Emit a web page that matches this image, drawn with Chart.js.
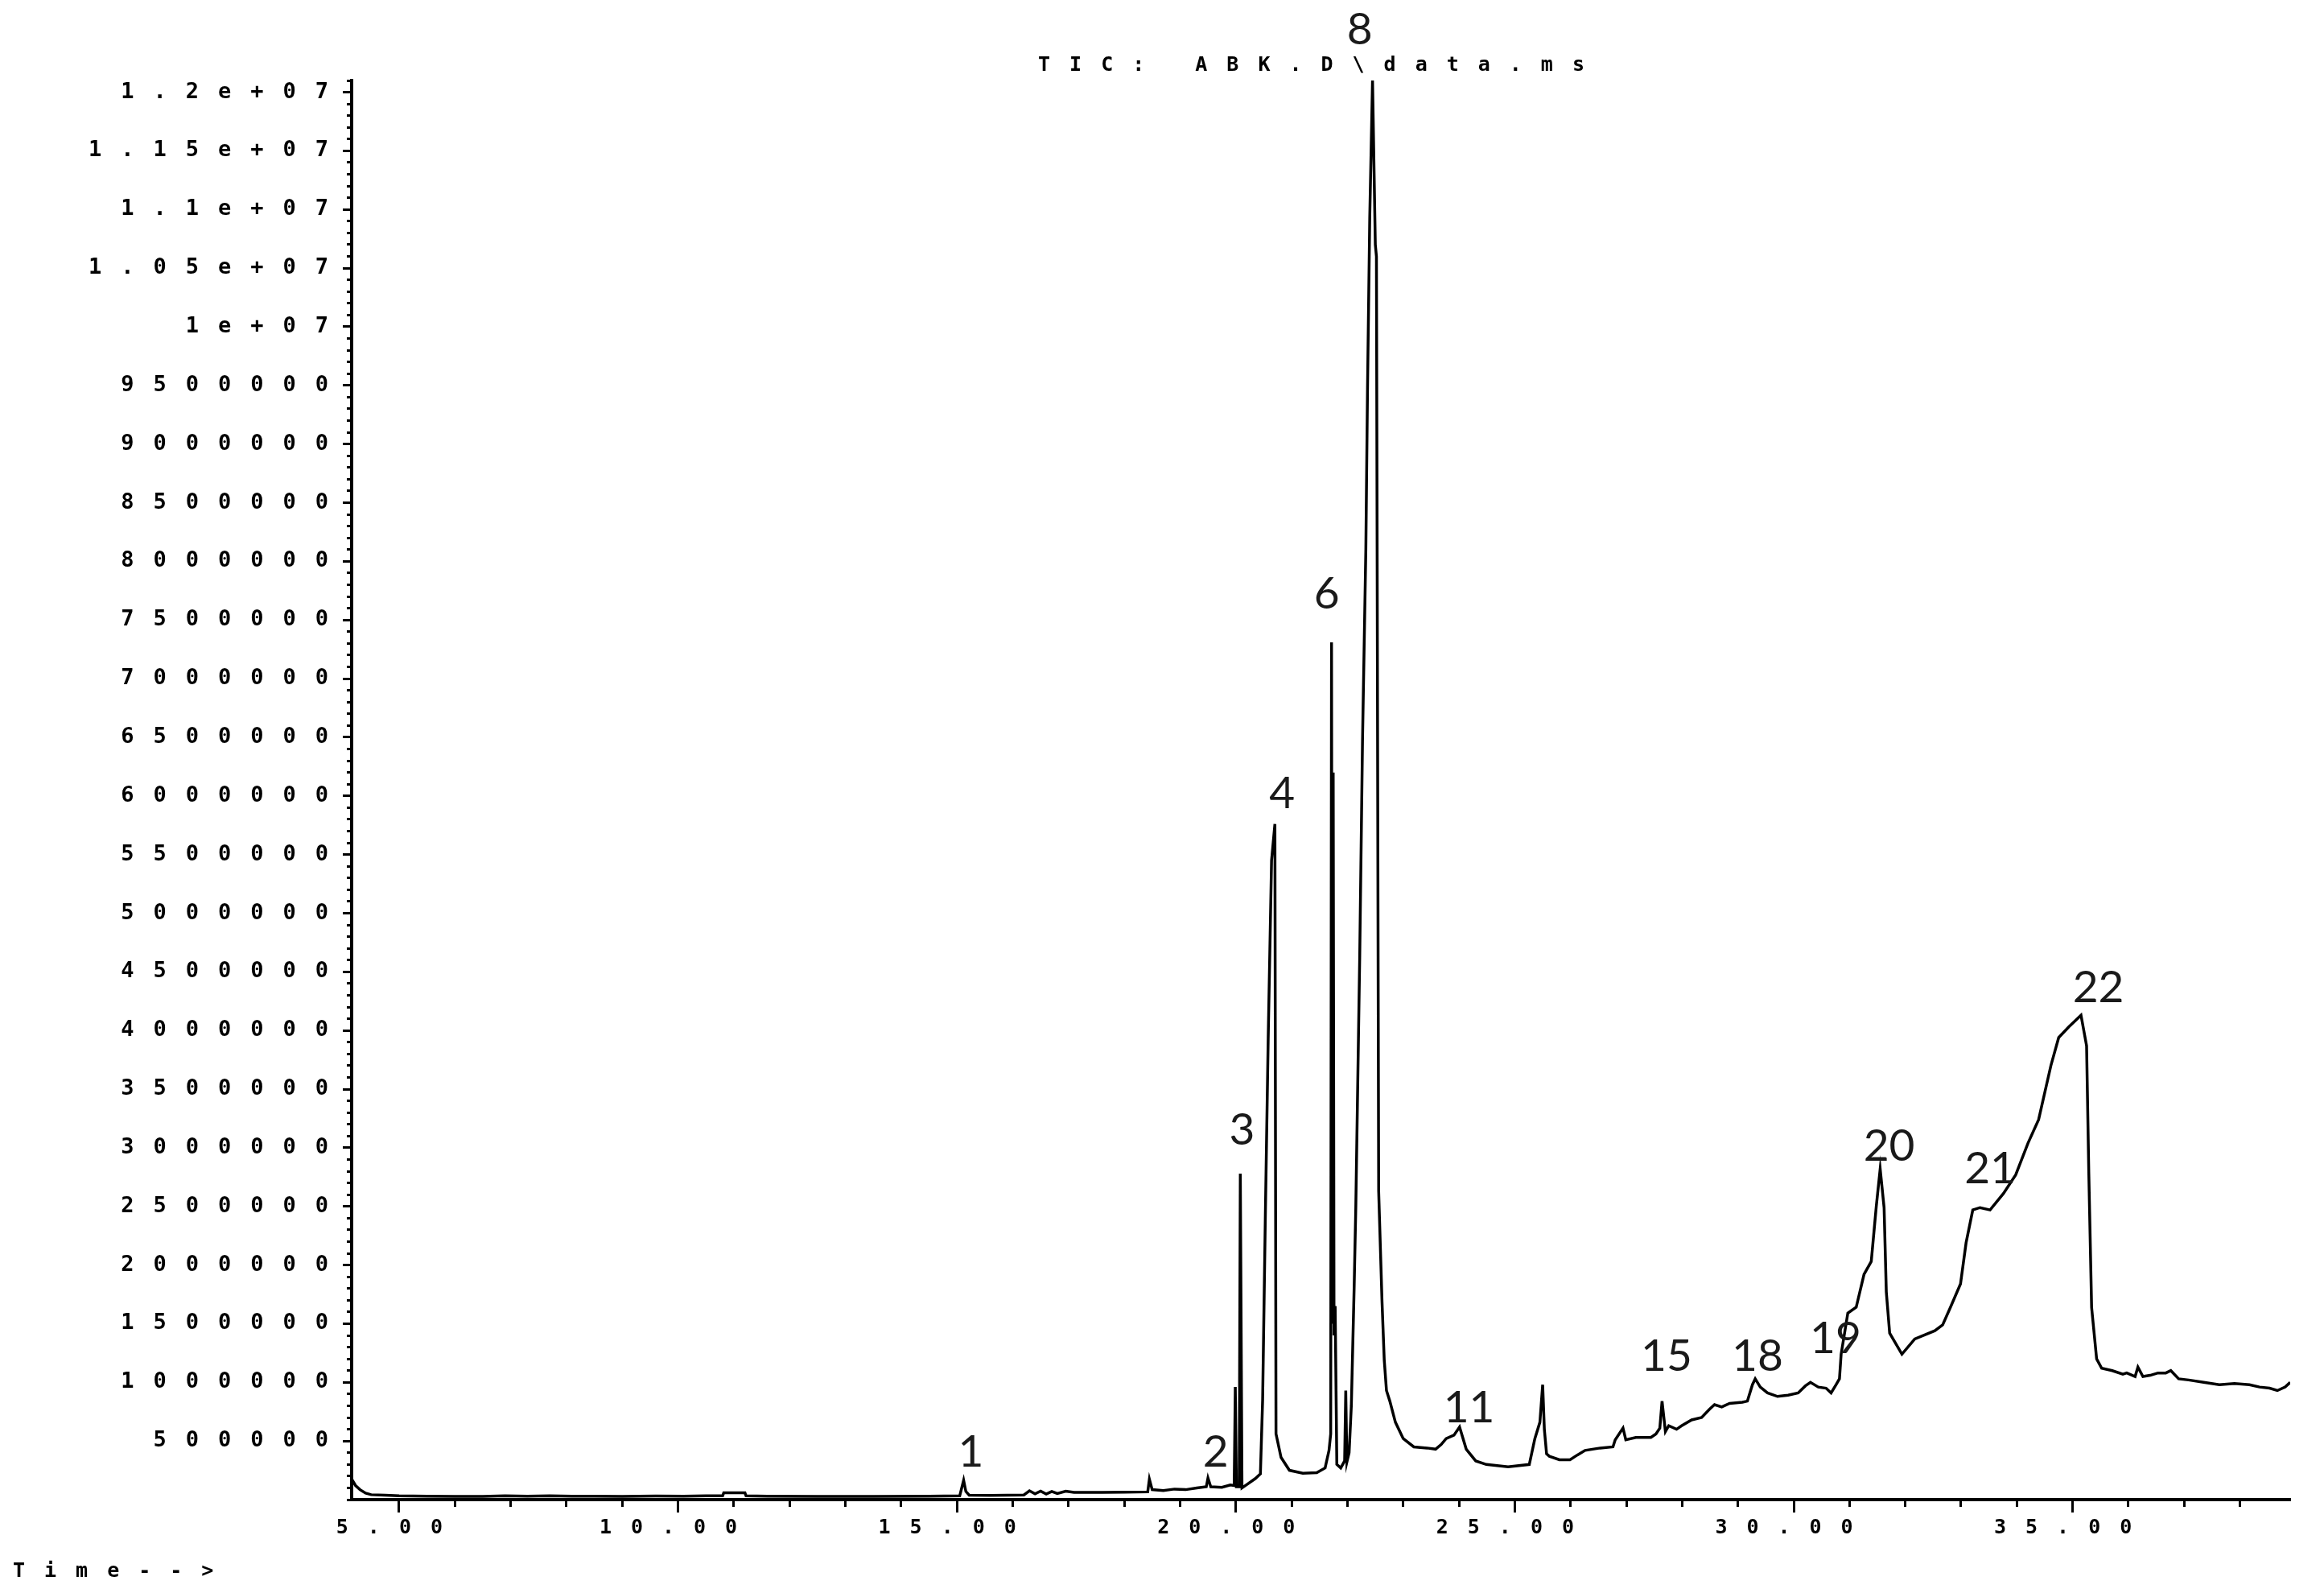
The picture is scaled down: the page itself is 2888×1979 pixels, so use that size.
<!DOCTYPE html>
<html>
<head>
<meta charset="utf-8">
<script src="https://cdn.jsdelivr.net/npm/chart.js@4.4.1/dist/chart.umd.min.js"></script>
<style>
  html, body { margin: 0; padding: 0; background: #ffffff; }
  #wrap { width: 2888px; height: 1979px; }
</style>
</head>
<body>
<div id="wrap"><canvas id="c" width="2888" height="1979"></canvas></div>
<script>
// ---------- text ----------
const chartTitle = 'TIC: ABK.D\\data.ms';
const xAxisTitle = 'Time-->';

// ---------- axes ----------
const xRange = [4.15, 38.9];
const yRange = [0, 12100000];
const xTickValues = [5, 10, 15, 20, 25, 30, 35];
const xTickLabels = ['5.00', '10.00', '15.00', '20.00', '25.00', '30.00', '35.00'];
const xMinorStep = 1;
const yTickValues = [500000, 1000000, 1500000, 2000000, 2500000, 3000000, 3500000, 4000000,
  4500000, 5000000, 5500000, 6000000, 6500000, 7000000, 7500000, 8000000, 8500000, 9000000,
  9500000, 10000000, 10500000, 11000000, 11500000, 12000000];
const yTickLabels = ['500000', '1000000', '1500000', '2000000', '2500000', '3000000', '3500000', '4000000',
  '4500000', '5000000', '5500000', '6000000', '6500000', '7000000', '7500000', '8000000', '8500000', '9000000',
  '9500000', '1e+07', '1.05e+07', '1.1e+07', '1.15e+07', '1.2e+07'];
const yMinorStep = 100000;

// ---------- trace: [retention time (min), abundance] ----------
const traceEarly = [
  [4.15, 175000], [4.22, 120000], [4.30, 85000], [4.40, 55000], [4.50, 42000], [4.75, 38000],
  [5.0, 32000], [5.5, 30000], [6.0, 28000], [6.5, 28000], [6.9, 32000], [7.3, 30000],
  [7.7, 33000], [8.1, 30000], [8.5, 29000], [9.0, 27000], [9.6, 31000], [10.1, 30000],
  [10.5, 32000], [10.8, 32000], [10.82, 58000], [11.2, 58000], [11.22, 32000], [11.6, 30000],
  [12.5, 28000], [13.5, 28000], [14.5, 30000], [15.05, 32000], [15.12, 165000], [15.16, 70000],
  [15.22, 38000], [15.6, 36000], [16.2, 40000], [16.3, 75000], [16.4, 50000], [16.5, 72000],
  [16.6, 48000], [16.7, 70000], [16.8, 52000], [16.95, 72000], [17.1, 62000], [17.6, 62000],
  [18.0, 64000], [18.42, 66000], [18.45, 175000], [18.5, 85000], [18.7, 78000], [18.9, 90000],
  [19.1, 85000], [19.3, 100000], [19.47, 110000], [19.5, 185000], [19.55, 110000], [19.75, 105000],
  [19.9, 125000], [19.97, 120000]
];
const traceMain = [
  [19.99, 960000], [20.01, 110000], [20.06, 110000], [20.08, 2780000], [20.11, 100000],
  [20.2, 130000], [20.35, 180000], [20.44, 220000], [20.48, 850000], [20.53, 2460000],
  [20.58, 3940000], [20.64, 5450000], [20.70, 5760000], [20.72, 560000], [20.81, 360000],
  [20.96, 250000], [21.2, 225000], [21.45, 230000], [21.6, 270000], [21.67, 420000],
  [21.70, 560000], [21.715, 7310000], [21.73, 1500000], [21.745, 6200000], [21.76, 1400000],
  [21.78, 1650000], [21.81, 300000], [21.88, 270000], [21.95, 330000], [21.97, 930000],
  [21.99, 320000], [22.03, 400000], [22.07, 800000], [22.12, 1800000], [22.15, 2490000],
  [22.22, 4620000], [22.27, 6460000], [22.33, 8100000], [22.36, 9470000], [22.40, 10930000],
  [22.45, 12100000], [22.50, 10700000], [22.52, 10600000], [22.56, 2630000], [22.62, 1690000],
  [22.66, 1190000], [22.70, 930000], [22.76, 840000], [22.86, 660000], [23.0, 520000],
  [23.19, 450000], [23.43, 440000], [23.58, 430000], [23.68, 470000], [23.77, 520000],
  [23.91, 550000], [24.01, 620000], [24.13, 430000], [24.3, 330000], [24.49, 300000],
  [24.88, 280000], [25.26, 300000], [25.36, 520000], [25.45, 660000], [25.50, 980000],
  [25.53, 600000], [25.57, 390000], [25.62, 370000], [25.8, 340000], [25.99, 340000]
];
const traceLate = [
  [26.12, 380000], [26.26, 420000], [26.53, 440000], [26.76, 450000], [26.8, 510000],
  [26.94, 610000], [26.99, 510000], [27.17, 530000], [27.44, 530000], [27.53, 560000],
  [27.6, 610000], [27.64, 840000], [27.7, 580000], [27.76, 630000], [27.9, 600000],
  [27.99, 630000], [28.17, 680000], [28.35, 700000], [28.49, 770000], [28.58, 810000],
  [28.71, 790000], [28.85, 820000], [29.08, 830000], [29.17, 840000], [29.26, 980000],
  [29.31, 1030000], [29.4, 960000], [29.53, 910000], [29.71, 880000], [29.9, 890000],
  [30.08, 910000], [30.21, 970000], [30.3, 1000000], [30.44, 960000], [30.58, 950000],
  [30.67, 910000], [30.76, 980000], [30.82, 1030000], [30.85, 1240000], [30.97, 1590000],
  [31.12, 1640000], [31.26, 1920000], [31.39, 2030000], [31.48, 2500000], [31.55, 2820000],
  [31.62, 2490000], [31.66, 1770000], [31.72, 1420000], [31.94, 1240000], [32.17, 1370000],
  [32.53, 1440000], [32.67, 1490000], [32.81, 1640000], [32.99, 1840000], [33.09, 2190000],
  [33.21, 2470000], [33.34, 2490000], [33.52, 2470000], [33.76, 2610000], [33.98, 2770000],
  [34.2, 3040000], [34.39, 3240000], [34.61, 3700000], [34.75, 3940000], [34.93, 4030000],
  [35.15, 4130000], [35.25, 3870000], [35.29, 2780000], [35.34, 1640000], [35.43, 1200000],
  [35.52, 1120000], [35.71, 1100000], [35.9, 1070000], [35.97, 1080000], [36.12, 1050000],
  [36.17, 1130000], [36.26, 1050000], [36.39, 1060000], [36.53, 1080000], [36.67, 1080000],
  [36.76, 1100000], [36.9, 1030000], [37.08, 1020000], [37.35, 1000000], [37.63, 980000],
  [37.9, 990000], [38.17, 980000], [38.35, 960000], [38.53, 950000], [38.67, 930000],
  [38.81, 960000], [38.9, 1000000]
];

// ---------- peak numbers ----------
const peakLabels = ['1', '2', '3', '4', '6', '8', '11', '15', '18', '19', '20', '21', '22'];
const peakLabelTimes = [15.25, 19.64, 20.11, 20.83, 21.63, 22.22, 24.18, 27.72, 29.35, 30.75, 31.71, 33.52, 35.46];
const peakLabelHeights = [400000, 400000, 3150000, 6020000, 7720000, 12530000, 780000, 1220000, 1220000, 1370000, 3010000, 2820000, 4360000];

// ---------- build ----------
const tracePoints = traceEarly.concat(traceMain, traceLate).map(p => ({ x: p[0], y: p[1] }));
const LETTER_SPACING = '24px';
const tickFont = { family: 'DejaVu Sans Mono', size: 25, weight: 'bold' };
const yTickFont = { family: 'DejaVu Sans Mono', size: 27, weight: 'bold' };

function stepValues(lo, hi, step, from) {
  const out = [];
  for (let v = from; v <= hi + 1e-9; v += step) if (v >= lo - 1e-9) out.push(Math.round(v * 1000) / 1000);
  return out;
}
const xMinorValues = stepValues(xRange[0], xRange[1], xMinorStep, Math.ceil(xRange[0]));
const yMinorValues = stepValues(yRange[0], yRange[1], yMinorStep, yRange[0]);

const spacingPlugin = {
  id: 'spacing',
  afterInit(chart) { chart.ctx.letterSpacing = LETTER_SPACING; },
  beforeUpdate(chart) { chart.ctx.letterSpacing = LETTER_SPACING; },
  beforeLayout(chart) { chart.ctx.letterSpacing = LETTER_SPACING; },
  beforeDraw(chart) { chart.ctx.letterSpacing = LETTER_SPACING; }
};

const peakLabelPlugin = {
  id: 'peakLabels',
  afterDraw(chart) {
    const ctx = chart.ctx;
    const xs = chart.scales.x, ys = chart.scales.y;
    ctx.save();
    ctx.letterSpacing = '0px';
    ctx.font = '55px Lato';
    ctx.fillStyle = '#1a1a1a';
    ctx.textAlign = 'center';
    ctx.textBaseline = 'middle';
    peakLabels.forEach((lab, i) => {
      ctx.fillText(lab, xs.getPixelForValue(peakLabelTimes[i]), ys.getPixelForValue(peakLabelHeights[i]));
    });
    ctx.restore();
  }
};

new Chart(document.getElementById('c'), {
  type: 'line',
  data: {
    datasets: [{
      data: tracePoints,
      borderColor: '#000000',
      borderWidth: 3.5,
      pointRadius: 0,
      tension: 0,
      fill: false
    }]
  },
  options: {
    responsive: false,
    devicePixelRatio: 1,
    animation: false,
    layout: { padding: { left: 16, right: 42, top: 0, bottom: 0 } },
    plugins: {
      legend: { display: false },
      tooltip: { enabled: false },
      title: {
        display: true, text: chartTitle, position: 'top', align: 'center', fullSize: false,
        color: '#000', font: tickFont, padding: { top: 66, bottom: 4 }
      },
      subtitle: {
        display: true, text: xAxisTitle, position: 'bottom', align: 'start', fullSize: true,
        color: '#000', font: tickFont, padding: { top: 0, bottom: 12 }
      }
    },
    scales: {
      x: {
        type: 'linear', position: 'bottom', weight: 1, min: xRange[0], max: xRange[1],
        afterBuildTicks(s) { s.ticks = xTickValues.map(v => ({ value: v })); },
        afterFit(s) { s.height = 74; },
        border: { display: true, color: '#000', width: 4 },
        grid: { display: true, drawOnChartArea: false, drawTicks: true, tickLength: 16, tickWidth: 3, tickColor: '#000' },
        ticks: {
          autoSkip: false, maxRotation: 0, minRotation: 0, padding: 4,
          color: '#000', font: tickFont,
          callback: (v) => { const i = xTickValues.indexOf(v); return i >= 0 ? xTickLabels[i] : ''; }
        }
      },
      xMinor: {
        type: 'linear', axis: 'x', position: 'bottom', weight: 0, min: xRange[0], max: xRange[1],
        afterBuildTicks(s) { s.ticks = xMinorValues.map(v => ({ value: v })); },
        afterFit(s) { s.height = 0; },
        border: { display: false },
        grid: { display: true, drawOnChartArea: false, drawTicks: true, tickLength: 9, tickWidth: 3, tickColor: '#000' },
        ticks: { display: false, autoSkip: false }
      },
      y: {
        type: 'linear', position: 'left', weight: 1, min: yRange[0], max: yRange[1],
        afterBuildTicks(s) { s.ticks = yTickValues.map(v => ({ value: v })); },
        afterFit(s) { s.width = 421; },
        border: { display: true, color: '#000', width: 4 },
        grid: { display: true, drawOnChartArea: false, drawTicks: true, tickLength: 11, tickWidth: 3, tickColor: '#000' },
        ticks: {
          display: true, autoSkip: false, padding: -6,
          color: '#000', font: yTickFont,
          callback: (v) => { const i = yTickValues.indexOf(v); return i >= 0 ? yTickLabels[i] : ''; }
        }
      },
      yMinor: {
        type: 'linear', axis: 'y', position: 'left', weight: 0, min: yRange[0], max: yRange[1],
        afterBuildTicks(s) { s.ticks = yMinorValues.map(v => ({ value: v })); },
        afterFit(s) { s.width = 0; },
        border: { display: false },
        grid: { display: true, drawOnChartArea: false, drawTicks: true, tickLength: 6, tickWidth: 3, tickColor: '#000' },
        ticks: { display: false, autoSkip: false }
      }
    }
  },
  plugins: [spacingPlugin, peakLabelPlugin]
});
</script>
</body>
</html>
